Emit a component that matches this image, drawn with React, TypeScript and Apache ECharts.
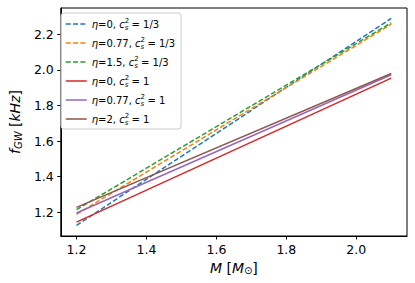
import React, { useEffect, useRef } from "react";
import * as echarts from "echarts";

const masses = [1.2, 2.1];
const etaLabels = ["0", "0.77", "1.5", "0", "0.77", "2"];
const cs2Labels = ["1/3", "1/3", "1/3", "1", "1", "1"];
const seriesNames = [
  "eta=0, cs2=1/3",
  "eta=0.77, cs2=1/3",
  "eta=1.5, cs2=1/3",
  "eta=0, cs2=1",
  "eta=0.77, cs2=1",
  "eta=2, cs2=1",
];
const freq0 = [1.127, 2.29];
const freq1 = [1.189, 2.257];
const freq2 = [1.215, 2.265];
const freq3 = [1.145, 1.954];
const freq4 = [1.196, 1.973];
const freq5 = [1.228, 1.98];
const seriesValues = [freq0, freq1, freq2, freq3, freq4, freq5];
const colors = ["#1f77b4", "#ff7f0e", "#2ca02c", "#d62728", "#9467bd", "#8c564b"];
const dashed = [true, true, true, false, false, false];
const xTicks = [1.2, 1.4, 1.6, 1.8, 2.0];
const yTicks = [1.2, 1.4, 1.6, 1.8, 2.0, 2.2];

const FONT = "DejaVu Sans";

export default function App() {
  const ref = useRef<HTMLDivElement>(null);
  useEffect(() => {
    if (!ref.current) return;
    const chart = echarts.init(ref.current, undefined, { renderer: "svg" });
    const series = seriesNames.map((name, i) => ({
      name,
      type: "line",
      symbol: "none",
      showSymbol: false,
      data: masses.map((m, j) => [m, seriesValues[i][j]]),
      lineStyle: {
        color: colors[i],
        width: 1.5,
        type: dashed[i] ? [5, 2.3] : "solid",
      },
      itemStyle: { color: colors[i] },
    }));
    chart.setOption({
      animation: false,
      grid: {
        left: 55,
        right: 8,
        top: 8,
        bottom: 47,
        show: true,
        borderColor: "#000",
        borderWidth: 1,
        backgroundColor: "transparent",
      },
      legend: {
        orient: "vertical",
        left: 61,
        top: 13,
        padding: [4, 6, 3, 4],
        itemGap: 5,
        itemWidth: 21,
        itemHeight: 14,
        itemTextGap: 9,
        borderColor: "#cccccc",
        borderWidth: 1,
        borderRadius: 3,
        backgroundColor: "rgba(255,255,255,0.8)",
        itemStyle: { opacity: 0, borderWidth: 0 },
        lineStyle: { width: 1.5 },
        data: seriesNames,
        formatter: (name: string) => {
          const i = seriesNames.indexOf(name);
          return `{it|η}=${etaLabels[i]}, {it|c}{sup|2}{sub|s} = ${cs2Labels[i]}`;
        },
        textStyle: {
          fontFamily: FONT,
          fontSize: 10,
          color: "#000",
          lineHeight: 14,
          rich: {
            it: { fontFamily: FONT, fontSize: 10, fontStyle: "italic", lineHeight: 14 },
            sup: { fontFamily: FONT, fontSize: 7, verticalAlign: "top", width: 0, lineHeight: 13 },
            sub: { fontFamily: FONT, fontSize: 7, fontStyle: "italic", verticalAlign: "bottom", lineHeight: 13 },
          },
        },
      },
      xAxis: {
        type: "value",
        min: 1.155,
        max: 2.145,
        name: "{it|M} [{it|M}{sub|⊙}]",
        nameLocation: "middle",
        nameGap: 22,
        nameTextStyle: {
          fontFamily: FONT,
          fontSize: 14,
          color: "#000",
          rich: {
            it: { fontFamily: FONT, fontSize: 14, fontStyle: "italic" },
            sub: { fontFamily: FONT, fontSize: 10, verticalAlign: "bottom", padding: [6, 0, 0, 0] },
          },
        },
        axisLine: { show: true, lineStyle: { color: "#000", width: 1 } },
        axisTick: { show: true, length: 3.5, customValues: xTicks, lineStyle: { color: "#000" } },
        axisLabel: {
          customValues: xTicks,
          fontFamily: FONT,
          fontSize: 12.5,
          color: "#000",
          margin: 7,
          formatter: (v: number) => v.toFixed(1),
        },
        splitLine: { show: false },
      },
      yAxis: {
        type: "value",
        min: 1.067,
        max: 2.348,
        name: "{it|f}{sub|GW} [{it|kHz}]",
        nameLocation: "middle",
        nameGap: 35,
        nameRotate: 90,
        nameTextStyle: {
          fontFamily: FONT,
          fontSize: 14,
          color: "#000",
          rich: {
            it: { fontFamily: FONT, fontSize: 14, fontStyle: "italic" },
            sub: { fontFamily: FONT, fontSize: 10, fontStyle: "italic", verticalAlign: "bottom", padding: [6, 0, 0, 0] },
          },
        },
        axisLine: { show: true, lineStyle: { color: "#000", width: 1 } },
        axisTick: { show: true, length: 3.5, customValues: yTicks, lineStyle: { color: "#000" } },
        axisLabel: {
          customValues: yTicks,
          fontFamily: FONT,
          fontSize: 12.5,
          color: "#000",
          margin: 7,
          formatter: (v: number) => v.toFixed(1),
        },
        splitLine: { show: false },
      },
      series,
    });
    return () => chart.dispose();
  }, []);
  return <div ref={ref} style={{ width: 415, height: 283, position: "absolute", left: 0, top: 0 }} />;
}
